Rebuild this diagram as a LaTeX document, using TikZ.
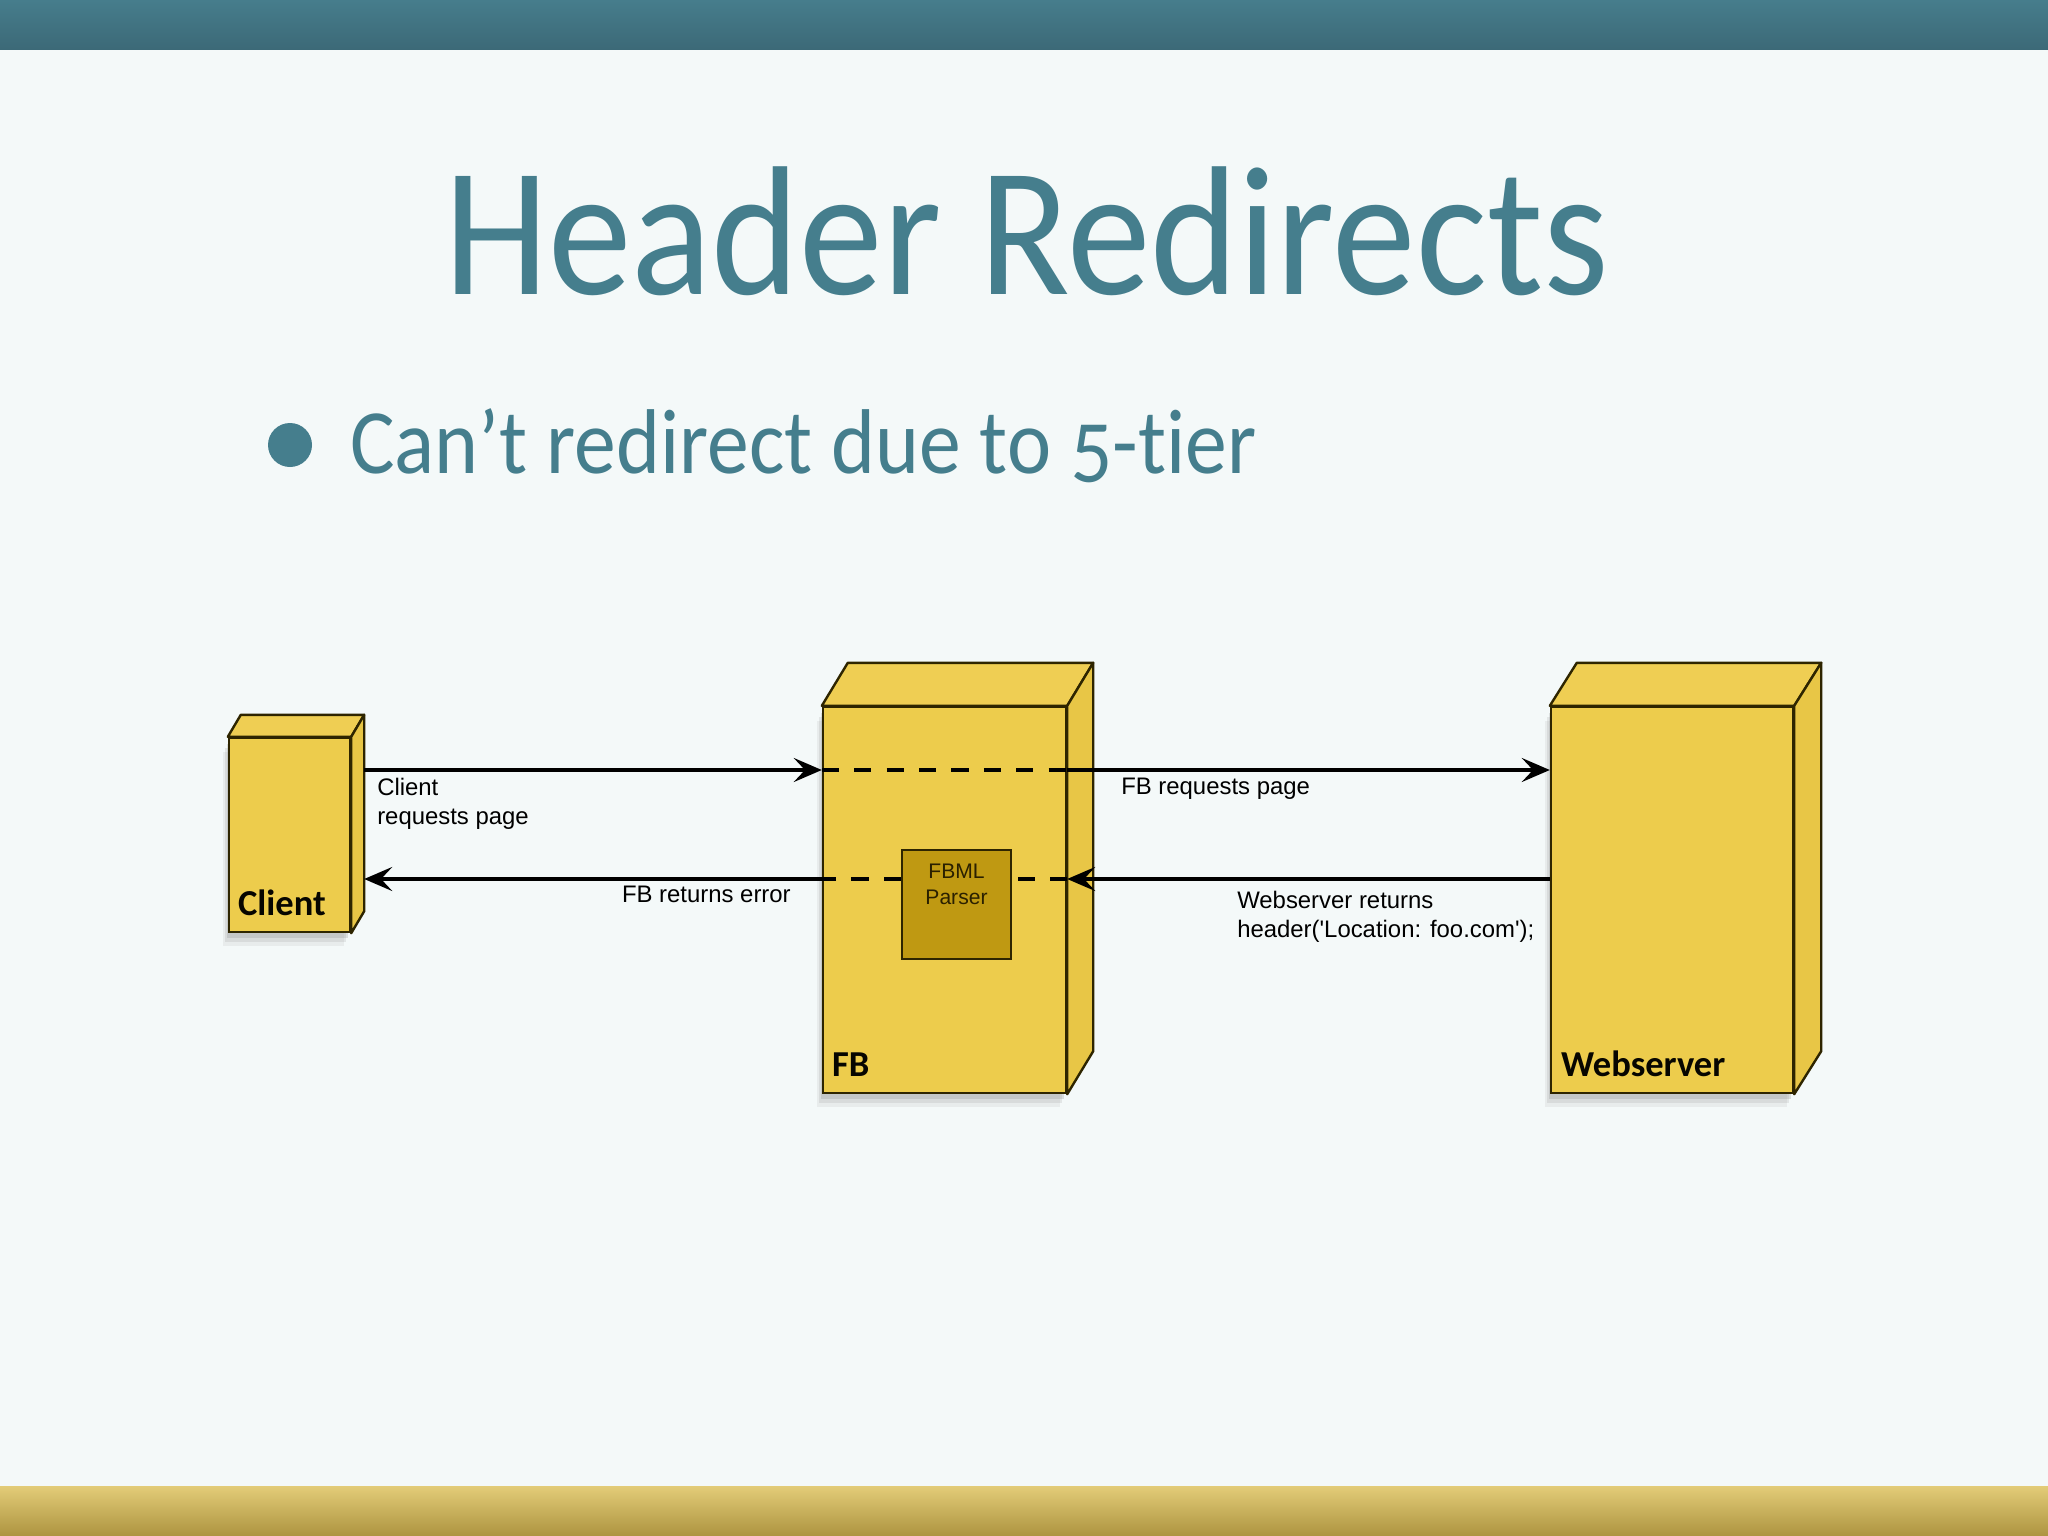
\documentclass[tikz,border=0pt]{standalone}
\usepackage{fontspec}
\usepackage{graphicx}
\setmainfont{Carlito}
\newfontfamily\slidefont{Carlito}[Numbers=OldStyle,Ligatures=NoCommon]
\newfontfamily\diagfont{Liberation Sans}[Ligatures=TeXOff]
\usetikzlibrary{arrows.meta,positioning,shadows,calc}
\definecolor{SlideTeal}{HTML}{457E8D}
\definecolor{BarTealTop}{HTML}{467D8C}
\definecolor{BarTealBot}{HTML}{3C6977}
\definecolor{BarGoldTop}{HTML}{E3CC78}
\definecolor{BarGoldBot}{HTML}{AD9440}
\definecolor{SlideBg}{HTML}{F4F9F9}
\definecolor{NodeYellow}{HTML}{EDCC4C}
\definecolor{NodeTop}{HTML}{EFCE53}
\definecolor{NodeSide}{HTML}{E8C646}
\definecolor{NodeEdge}{HTML}{2E2500}
\definecolor{ParserFill}{HTML}{BF9912}
\definecolor{ParserText}{HTML}{2A2000}
\newcommand\pix{0.25mm}
% top and side face of a tier box, plus the back edge for the arrows
\newcommand\nodedepth[3]{%
  \draw[face,fill=NodeTop] (#1.north west) -- ++(#2,-#3) -- ([shift={(#2,-#3)}]#1.north east) -- (#1.north east) -- cycle;
  \draw[face,fill=NodeSide] (#1.north east) -- ([shift={(#2,-#3)}]#1.north east) -- ([shift={(#2,-#3)}]#1.south east) -- (#1.south east) -- cycle;
  \coordinate (#1-side) at ([xshift=#2*\pix]#1.east);}

\begin{document}
\begin{tikzpicture}[x=0.25mm,y=-0.25mm,
    tier/.style={draw=NodeEdge,line width=0.6mm,fill=NodeYellow,inner sep=0,
      drop shadow={opacity=.10,shadow xshift=-4pt,shadow yshift=-10pt},
      drop shadow={opacity=.15,shadow xshift=-3pt,shadow yshift=-7pt},
      drop shadow={opacity=.22,shadow xshift=-1.5pt,shadow yshift=-4pt}},
    face/.style={draw=NodeEdge,line width=0.6mm,line join=round},
    parserbox/.style={draw=NodeEdge,line width=0.5mm,fill=ParserFill,inner sep=0,minimum size=109*\pix},
    arr/.style={-{Stealth[length=7mm,width=6mm,inset=2.8mm]},line width=0.9mm},
    dashline/.style={line width=0.9mm,dash pattern=on 4.3mm off 3.8mm},
    lbl/.style={font=\diagfont\fontsize{17}{20.4}\selectfont,inner sep=0,align=left},
    tierlbl/.style={font=\bfseries\fontsize{26}{31}\selectfont,text=black!85!NodeEdge,anchor=base west,inner sep=0}
  ]
  \useasboundingbox (0,0) rectangle (2048,1536);
  \fill[SlideBg] (0,0) rectangle (2048,1536);
  \shade[top color=BarTealTop,bottom color=BarTealBot] (0,0) rectangle (2048,50);
  \shade[top color=BarGoldTop,bottom color=BarGoldBot] (0,1486) rectangle (2048,1536);

  \node[anchor=base west,inner sep=0,text=SlideTeal,font=\slidefont\fontsize{119}{130}\selectfont] (title) at (444,294) {\scalebox{1}[1.1]{Header Redirects}};
  \node[circle,fill=SlideTeal,inner sep=0,minimum size=44*\pix] (bullet) at (290,445) {};
  \node[anchor=base west,inner sep=0,text=SlideTeal,font=\slidefont\fontsize{59.5}{70}\selectfont] (point) at (350,473) {\scalebox{1}[1.1]{Can’t redirect due to 5-tier}};

  % tiers
  \node[tier,minimum width=121*\pix,minimum height=194*\pix] (client) at (289.5,835) {};
  \nodedepth{client}{13}{22}
  \node[tier,minimum width=243*\pix,minimum height=386*\pix] (fb) at (944.5,900) {};
  \nodedepth{fb}{26}{43}
  \node[tier,minimum width=242*\pix,minimum height=386*\pix] (web) at (1672,900) {};
  \nodedepth{web}{27}{43}
  \node[parserbox] (parser) at (956.5,904.5) {};
  \node[lbl,font=\diagfont\fontsize{15}{18}\selectfont,text=ParserText,align=center,below=3.8mm of parser.north] (fbml) {FBML\\Parser};

  \node[tierlbl] (clientlbl) at ([shift={(10,-18)}]client.south west) {Client};
  \node[tierlbl] (fblbl) at ([shift={(10,-18)}]fb.south west) {FB};
  \node[tierlbl] (weblbl) at ([shift={(11,-18)}]web.south west) {Webserver};

  % requests and replies
  \coordinate (req) at (0,770);
  \coordinate (ret) at (0,879);
  \draw[arr] (client-side |- req) -- (fb.west |- req);
  \draw[dashline] (fb.west |- req) -- (fb.east |- req);
  \draw[arr] (fb.east |- req) -- (web.west |- req);
  \draw[arr] (web.west |- ret) -- (fb.east |- ret);
  \draw[dashline] (fb.east |- ret) -- (parser.east |- ret);
  \draw[dashline] (parser.west |- ret) -- (fb.west |- ret);
  \draw[arr] (fb.west |- ret) -- (client-side |- ret);

  \node[lbl,anchor=north west] (reqlbl) at (377,778) {Client\\requests page};
  \node[lbl,anchor=north west] (fwdlbl) at (1121,778) {FB requests page};
  \node[lbl,anchor=north east] (errlbl) at (791,886) {FB returns error};
  \node[lbl,anchor=north west] (hdrlbl) at (1237,891) {Webserver returns\\header('Location: foo.com');};
\end{tikzpicture}
\end{document}
